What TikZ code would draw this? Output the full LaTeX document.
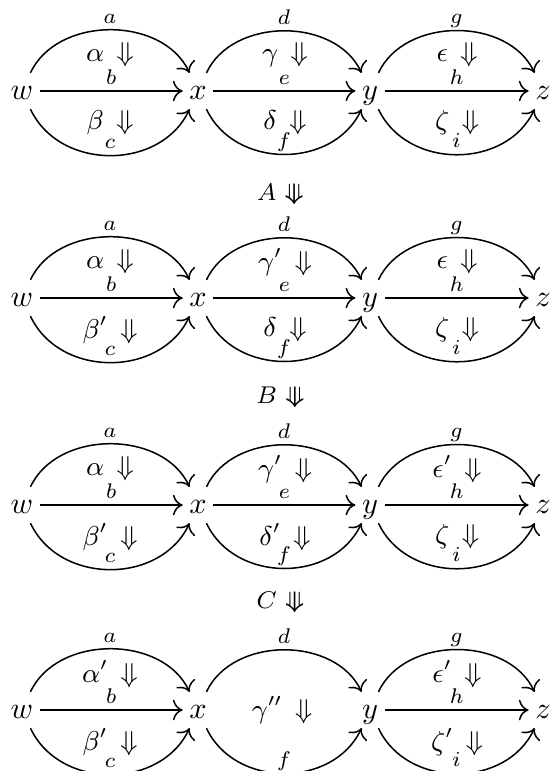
\documentclass[tikz,border=0pt]{standalone}
\usepackage{amsmath}
\usepackage{amssymb}
\usetikzlibrary{arrows.meta, positioning}

\newcommand{\tdown}{\rotatebox[origin=c]{-90}{\fontsize{7}{8}\selectfont$\Rrightarrow$}}
\newcommand{\cellgap}{\mkern8mu}

\begin{document}
\begin{tikzpicture}[
      x=0.33pt, y=0.33pt,
      obj/.style={inner sep=2pt, text height=1.5ex, text depth=0.25ex},
      lbl/.style={above, inner sep=1.5pt, font=\fontsize{7.5}{9}\selectfont,
        text height=1.6ex, text depth=0.5pt},
      cell/.style={inner sep=1pt, font=\fontsize{9}{11}\selectfont},
      step2/.style={inner sep=1pt, font=\footnotesize},
      arr/.style={-{Computer Modern Rightarrow[scale=1.2]}, line width=0.5pt},
      up/.style={arr, out=65, in=115, looseness=1.02},
      dn/.style={arr, out=-65, in=-115, looseness=1.1}
    ]
    \useasboundingbox (0,0) rectangle (550,-771);

    % first row
    \node[obj] (w1) at (22,-91)  {$w$};
    \node[obj] (x1) at (198,-91) {$x$};
    \node[obj] (y1) at (370,-91) {$y$};
    \node[obj] (z1) at (543,-91) {$z$};
    \draw[up]  (w1) to node[lbl]{$a$} (x1);
    \draw[arr] (w1) -- node[lbl]{$b$} (x1);
    \draw[dn]  (w1) to node[lbl]{$c$} (x1);
    \draw[up]  (x1) to node[lbl]{$d$} (y1);
    \draw[arr] (x1) -- node[lbl]{$e$} (y1);
    \draw[dn]  (x1) to node[lbl]{$f$} (y1);
    \draw[up]  (y1) to node[lbl]{$g$} (z1);
    \draw[arr] (y1) -- node[lbl]{$h$} (z1);
    \draw[dn]  (y1) to node[lbl]{$i$} (z1);
    \node[cell] (al1) at (110,-55)  {$\alpha\cellgap{\Downarrow}$};
    \node[cell] (be1) at (110,-123) {$\beta\cellgap{\Downarrow}$};
    \node[cell] (ga1) at (285,-55)  {$\gamma\cellgap{\Downarrow}$};
    \node[cell] (de1) at (285,-123) {$\delta\cellgap{\Downarrow}$};
    \node[cell] (ep1) at (457,-55)  {$\epsilon\cellgap{\Downarrow}$};
    \node[cell] (ze1) at (457,-123) {$\zeta\cellgap{\Downarrow}$};

    \node[step2] (A) at (280,-195) {$A$\hspace{3pt}\tdown};

    % second row
    \node[obj] (w2) at (22,-298)  {$w$};
    \node[obj] (x2) at (198,-298) {$x$};
    \node[obj] (y2) at (370,-298) {$y$};
    \node[obj] (z2) at (543,-298) {$z$};
    \draw[up]  (w2) to node[lbl]{$a$} (x2);
    \draw[arr] (w2) -- node[lbl]{$b$} (x2);
    \draw[dn]  (w2) to node[lbl]{$c$} (x2);
    \draw[up]  (x2) to node[lbl]{$d$} (y2);
    \draw[arr] (x2) -- node[lbl]{$e$} (y2);
    \draw[dn]  (x2) to node[lbl]{$f$} (y2);
    \draw[up]  (y2) to node[lbl]{$g$} (z2);
    \draw[arr] (y2) -- node[lbl]{$h$} (z2);
    \draw[dn]  (y2) to node[lbl]{$i$} (z2);
    \node[cell] (al2) at (110,-262) {$\alpha\cellgap{\Downarrow}$};
    \node[cell] (be2) at (110,-330) {$\beta'\cellgap{\Downarrow}$};
    \node[cell] (ga2) at (285,-262) {$\gamma'\cellgap{\Downarrow}$};
    \node[cell] (de2) at (285,-330) {$\delta\cellgap{\Downarrow}$};
    \node[cell] (ep2) at (457,-262) {$\epsilon\cellgap{\Downarrow}$};
    \node[cell] (ze2) at (457,-330) {$\zeta\cellgap{\Downarrow}$};

    \node[step2] (B) at (280,-398) {$B$\hspace{3pt}\tdown};

    % third row
    \node[obj] (w3) at (22,-505)  {$w$};
    \node[obj] (x3) at (198,-505) {$x$};
    \node[obj] (y3) at (370,-505) {$y$};
    \node[obj] (z3) at (543,-505) {$z$};
    \draw[up]  (w3) to node[lbl]{$a$} (x3);
    \draw[arr] (w3) -- node[lbl]{$b$} (x3);
    \draw[dn]  (w3) to node[lbl]{$c$} (x3);
    \draw[up]  (x3) to node[lbl]{$d$} (y3);
    \draw[arr] (x3) -- node[lbl]{$e$} (y3);
    \draw[dn]  (x3) to node[lbl]{$f$} (y3);
    \draw[up]  (y3) to node[lbl]{$g$} (z3);
    \draw[arr] (y3) -- node[lbl]{$h$} (z3);
    \draw[dn]  (y3) to node[lbl]{$i$} (z3);
    \node[cell] (al3) at (110,-469) {$\alpha\cellgap{\Downarrow}$};
    \node[cell] (be3) at (110,-537) {$\beta'\cellgap{\Downarrow}$};
    \node[cell] (ga3) at (285,-469) {$\gamma'\cellgap{\Downarrow}$};
    \node[cell] (de3) at (285,-537) {$\delta'\cellgap{\Downarrow}$};
    \node[cell] (ep3) at (457,-469) {$\epsilon'\cellgap{\Downarrow}$};
    \node[cell] (ze3) at (457,-537) {$\zeta\cellgap{\Downarrow}$};

    \node[step2] (C) at (280,-603) {$C$\hspace{3pt}\tdown};

    % last row
    \node[obj] (w4) at (22,-710)  {$w$};
    \node[obj] (x4) at (198,-710) {$x$};
    \node[obj] (y4) at (370,-710) {$y$};
    \node[obj] (z4) at (543,-710) {$z$};
    \draw[up]  (w4) to node[lbl]{$a$} (x4);
    \draw[arr] (w4) -- node[lbl]{$b$} (x4);
    \draw[dn]  (w4) to node[lbl]{$c$} (x4);
    \draw[up]  (x4) to node[lbl]{$d$} (y4);
    \draw[dn]  (x4) to node[lbl]{$f$} (y4);
    \draw[up]  (y4) to node[lbl]{$g$} (z4);
    \draw[arr] (y4) -- node[lbl]{$h$} (z4);
    \draw[dn]  (y4) to node[lbl]{$i$} (z4);
    \node[cell] (al4) at (110,-674) {$\alpha'\cellgap{\Downarrow}$};
    \node[cell] (be4) at (110,-742) {$\beta'\cellgap{\Downarrow}$};
    \node[cell] (ga4) at (282,-710) {$\gamma''\cellgap{\Downarrow}$};
    \node[cell] (ep4) at (457,-674) {$\epsilon'\cellgap{\Downarrow}$};
    \node[cell] (ze4) at (457,-742) {$\zeta'\cellgap{\Downarrow}$};
  \end{tikzpicture}
\end{document}
